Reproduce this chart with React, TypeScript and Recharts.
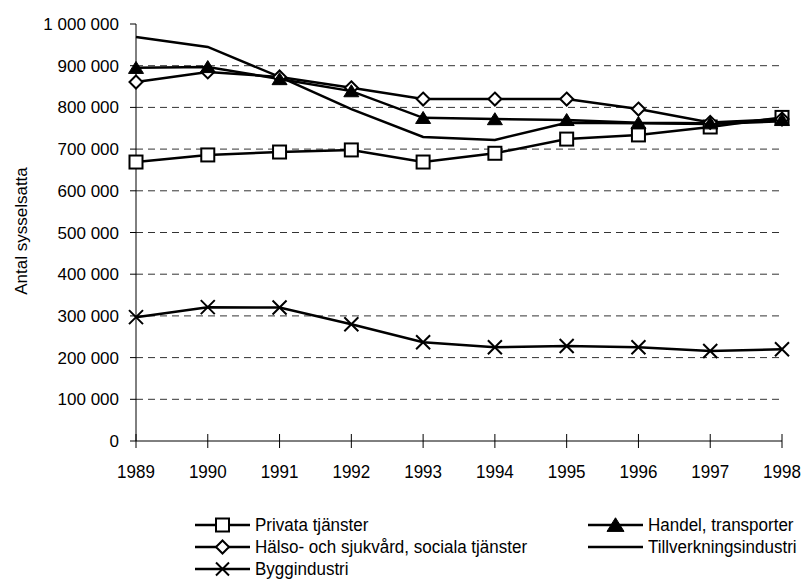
import { CartesianGrid, Line, LineChart, XAxis, YAxis } from "recharts";

const years = ["1989", "1990", "1991", "1992", "1993", "1994", "1995", "1996", "1997", "1998"];
const privata = [669000, 686000, 693000, 698000, 669000, 690000, 724000, 734000, 753000, 776000];
const halso = [861000, 885000, 873000, 847000, 820000, 820000, 820000, 796000, 764000, 772000];
const handel = [895000, 897000, 868000, 839000, 775000, 772000, 770000, 763000, 762000, 770000];
const tillverkning = [969000, 945000, 873000, 796000, 729000, 722000, 763000, 762000, 760000, 767000];
const bygg = [297000, 321000, 320000, 280000, 237000, 225000, 228000, 225000, 216000, 220000];
const yTicks = [0, 100000, 200000, 300000, 400000, 500000, 600000, 700000, 800000, 900000, 1000000];
const gridValues = [100000, 200000, 300000, 400000, 500000, 600000, 700000, 800000, 900000];

const FONT = '"Liberation Sans", Arial, sans-serif';

const data = years.map((year, i) => ({
  year,
  privata: privata[i],
  halso: halso[i],
  handel: handel[i],
  tillverkning: tillverkning[i],
  bygg: bygg[i],
}));

// "1 000 000" style thousands separator
function formatThousands(v: number): string {
  return String(v).replace(/\B(?=(\d{3})+(?!\d))/g, " ");
}

type MarkerKind = "square" | "diamond" | "triangle" | "cross" | "none";

function Marker({ kind, cx, cy, s }: { kind: MarkerKind; cx: number; cy: number; s: number }) {
  const h = s / 2;
  if (kind === "square") {
    return <rect x={cx - h} y={cy - h} width={s} height={s} fill="#fff" stroke="#000" strokeWidth={2} />;
  }
  if (kind === "diamond") {
    return (
      <polygon
        points={`${cx},${cy - h} ${cx + h},${cy} ${cx},${cy + h} ${cx - h},${cy}`}
        fill="#fff"
        stroke="#000"
        strokeWidth={2}
      />
    );
  }
  if (kind === "triangle") {
    return (
      <polygon
        points={`${cx},${cy - h * 0.85} ${cx + h},${cy + h * 0.75} ${cx - h},${cy + h * 0.75}`}
        fill="#000"
        stroke="#000"
        strokeWidth={1}
      />
    );
  }
  if (kind === "cross") {
    return (
      <path
        d={`M${cx - h},${cy - h}L${cx + h},${cy + h}M${cx + h},${cy - h}L${cx - h},${cy + h}`}
        stroke="#000"
        strokeWidth={2}
        fill="none"
      />
    );
  }
  return null;
}

function dotOf(kind: MarkerKind, size: number) {
  return (props: any) => (
    <Marker key={`${kind}-${props.index}`} kind={kind} cx={props.cx} cy={props.cy} s={size} />
  );
}

// tick mark crosses the axis, label a bit taller than plain Arial like the original
function XTick(props: any) {
  const { x, y, payload } = props;
  return (
    <g>
      <line x1={x} x2={x} y1={y - 7} y2={y + 7} stroke="#000" strokeWidth={1} />
      <text
        transform={`translate(${x}, ${y + 37}) scale(1, 1.1)`}
        textAnchor="middle"
        fontSize={17}
        fontFamily={FONT}
        fill="#000"
      >
        {payload.value}
      </text>
    </g>
  );
}

const legendItems: { label: string; kind: MarkerKind; left: number; top: number; size: number }[] = [
  { label: "Privata tjänster", kind: "square", left: 195, top: 525, size: 13 },
  { label: "Handel, transporter", kind: "triangle", left: 588, top: 525, size: 17 },
  { label: "Hälso- och sjukvård, sociala tjänster", kind: "diamond", left: 195, top: 547, size: 13 },
  { label: "Tillverkningsindustri", kind: "none", left: 588, top: 547, size: 0 },
  { label: "Byggindustri", kind: "cross", left: 195, top: 569, size: 13 },
];

export default function App() {
  return (
    <div style={{ position: "absolute", left: 0, top: 0, width: 805, height: 583, background: "#fff", fontFamily: FONT }}>
      <LineChart width={805} height={583} data={data} margin={{ top: 24, right: 23, bottom: 102, left: 0 }}>
        <CartesianGrid
          vertical={false}
          horizontalValues={gridValues}
          stroke="#333"
          strokeDasharray="7 5"
          strokeWidth={1}
        />
        <XAxis
          dataKey="year"
          height={40}
          axisLine={{ stroke: "#000", strokeWidth: 1 }}
          tickLine={false}
          tickSize={0}
          tickMargin={0}
          interval={0}
          tick={<XTick />}
        />
        <YAxis
          width={136}
          domain={[0, 1000000]}
          ticks={yTicks}
          interval={0}
          tickFormatter={formatThousands}
          axisLine={{ stroke: "#000", strokeWidth: 1 }}
          tickLine={{ stroke: "#000", strokeWidth: 1 }}
          tickSize={6}
          tickMargin={11}
          tick={{ fill: "#000", fontSize: 17, fontFamily: FONT }}
        />
        <Line dataKey="tillverkning" type="linear" stroke="#000" strokeWidth={2.5} dot={false} isAnimationActive={false} />
        <Line dataKey="bygg" type="linear" stroke="#000" strokeWidth={2.5} dot={dotOf("cross", 14)} isAnimationActive={false} />
        <Line dataKey="privata" type="linear" stroke="#000" strokeWidth={2.5} dot={dotOf("square", 13)} isAnimationActive={false} />
        <Line dataKey="halso" type="linear" stroke="#000" strokeWidth={2.5} dot={dotOf("diamond", 13)} isAnimationActive={false} />
        <Line dataKey="handel" type="linear" stroke="#000" strokeWidth={2.5} dot={dotOf("triangle", 15)} isAnimationActive={false} />
      </LineChart>

      <div
        style={{
          position: "absolute",
          left: 22,
          top: 231,
          transform: "translate(-50%, -50%) rotate(-90deg)",
          fontSize: 17,
          whiteSpace: "nowrap",
          color: "#000",
        }}
      >
        Antal sysselsatta
      </div>

      {legendItems.map((item) => (
        <div
          key={item.label}
          style={{ position: "absolute", left: item.left, top: item.top - 11, height: 22, display: "flex", alignItems: "center" }}
        >
          <svg width={56} height={22}>
            <line x1={0} x2={55} y1={11} y2={11} stroke="#000" strokeWidth={2.5} />
            <Marker kind={item.kind} cx={27.5} cy={11} s={item.size} />
          </svg>
          <span
            style={{
              display: "inline-block",
              fontSize: 17,
              color: "#000",
              marginLeft: 4,
              whiteSpace: "nowrap",
              transform: "scaleY(1.1)",
            }}
          >
            {item.label}
          </span>
        </div>
      ))}
    </div>
  );
}
